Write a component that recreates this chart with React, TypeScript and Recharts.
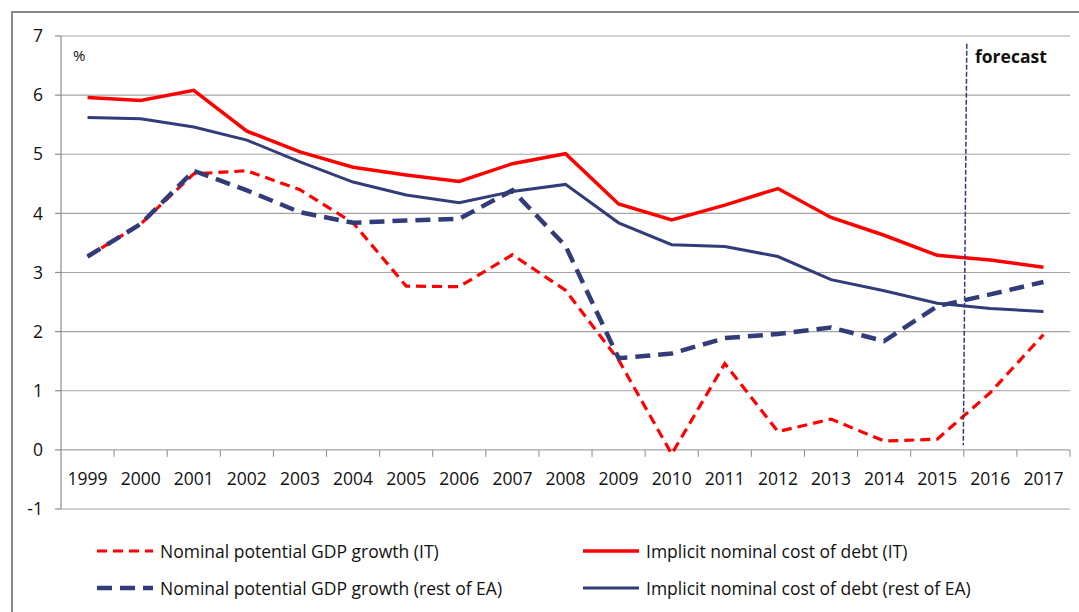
import React from 'react';
import { ComposedChart, Line, XAxis, YAxis, CartesianGrid, ReferenceLine } from 'recharts';

const years = ['1999', '2000', '2001', '2002', '2003', '2004', '2005', '2006', '2007', '2008', '2009', '2010', '2011', '2012', '2013', '2014', '2015', '2016', '2017'];
const gdpIT = [3.27, 3.82, 4.67, 4.72, 4.4, 3.84, 2.77, 2.76, 3.3, 2.7, 1.52, -0.07, 1.46, 0.31, 0.52, 0.15, 0.18, 0.97, 1.95];
const costIT = [5.96, 5.91, 6.08, 5.39, 5.04, 4.78, 4.65, 4.54, 4.84, 5.01, 4.16, 3.89, 4.14, 4.42, 3.93, 3.63, 3.29, 3.21, 3.09];
const gdpEA = [3.27, 3.82, 4.72, 4.39, 4.02, 3.84, 3.88, 3.91, 4.39, 3.45, 1.55, 1.63, 1.89, 1.96, 2.07, 1.84, 2.43, 2.63, 2.84];
const costEA = [5.62, 5.6, 5.46, 5.24, 4.87, 4.53, 4.31, 4.18, 4.37, 4.49, 3.84, 3.47, 3.44, 3.27, 2.88, 2.69, 2.48, 2.39, 2.34];
const yTicks = [-1, 0, 1, 2, 3, 4, 5, 6, 7];
const forecastYear = '2016'; // forecast starts at the left edge of this year's band
const forecastTop = 6.87;
const forecastBottom = 0.08;

const RED = '#ff0000';
const NAVY = '#323c78';
const GRID = '#a3a3a3';
const AXIS = '#8c8c8c';
const TEXT = '#111111';
const FONT = '"Open Sans", "Noto Sans", sans-serif';

const series = [
  { key: 'gdpIT', name: 'Nominal potential GDP growth (IT)', color: RED, width: 3.2, dash: '10 6' },
  { key: 'costIT', name: 'Implicit nominal cost of debt (IT)', color: RED, width: 3.5, dash: undefined },
  { key: 'gdpEA', name: 'Nominal potential GDP growth (rest of EA)', color: NAVY, width: 4.5, dash: '15 8' },
  { key: 'costEA', name: 'Implicit nominal cost of debt (rest of EA)', color: NAVY, width: 3, dash: undefined },
];

const data = years.map((year, i) => ({
  year,
  gdpIT: gdpIT[i],
  costIT: costIT[i],
  gdpEA: gdpEA[i],
  costEA: costEA[i],
}));

const W = 1079;
const H = 612;
const MARGIN = { top: 36, right: 9, left: 0, bottom: 73 };
const Y_AXIS_W = 61;
const X_AXIS_H = 30;
const Y_MIN = -1;
const Y_MAX = 7;
const plotTop = MARGIN.top;
const plotBottom = H - MARGIN.bottom - X_AXIS_H;
const plotLeft = MARGIN.left + Y_AXIS_W;
const plotRight = W - MARGIN.right;
const band = (plotRight - plotLeft) / years.length;
const zeroY = plotTop + ((plotBottom - plotTop) * (Y_MAX - 0)) / (Y_MAX - Y_MIN);

const YearTick = (props: any) => {
  const { x, payload } = props;
  return (
    <g>
      <line x1={x + band / 2} x2={x + band / 2} y1={zeroY} y2={zeroY + 7} stroke={AXIS} strokeWidth={1} />
      <text x={x} y={zeroY + 28} textAnchor="middle" dominantBaseline="central" fontSize={17.5} fontFamily={FONT} fill={TEXT}>
        {payload.value}
      </text>
    </g>
  );
};

const ForecastLine = (props: any) => {
  const { x1, y1, x2, y2 } = props;
  if (x1 == null || y1 == null) return null;
  return (
    <line
      x1={x1 - band / 2 + 3}
      y1={y1}
      x2={x2 - band / 2 - 0.5}
      y2={y2}
      stroke={NAVY}
      strokeWidth={1.5}
      strokeDasharray="5 2"
    />
  );
};

const legendPos = [
  { left: 97, top: 551 },
  { left: 583, top: 551 },
  { left: 97, top: 588 },
  { left: 583, top: 588 },
];

export default function App() {
  return (
    <div style={{ position: 'absolute', left: 0, top: 0, width: W, height: H, overflow: 'hidden', background: '#fff', fontFamily: FONT }}>
      <div style={{ position: 'absolute', left: 11, top: 11, width: 1200, height: 800, border: '2px solid #8a8a8a', boxSizing: 'border-box' }} />
      <div style={{ position: 'absolute', left: 0, top: 0 }}>
        <ComposedChart width={W} height={H} data={data} margin={MARGIN}>
          <CartesianGrid vertical={false} stroke={GRID} strokeWidth={1.2} />
          <XAxis
            dataKey="year"
            scale="band"
            axisLine={false}
            tickLine={false}
            interval={0}
            height={X_AXIS_H}
            tick={(p: any) => <YearTick {...p} />}
          />
          <YAxis
            domain={[Y_MIN, Y_MAX]}
            ticks={yTicks}
            interval={0}
            width={Y_AXIS_W}
            tickSize={6}
            tickMargin={12}
            axisLine={{ stroke: AXIS, strokeWidth: 1.2 }}
            tickLine={{ stroke: AXIS, strokeWidth: 1.2 }}
            tick={{ fontSize: 17.5, fontFamily: FONT, fill: TEXT }}
          />
          {series.map((s) => (
            <Line
              key={s.key}
              dataKey={s.key}
              name={s.name}
              type="linear"
              stroke={s.color}
              strokeWidth={s.width}
              strokeDasharray={s.dash}
              dot={false}
              activeDot={false}
              isAnimationActive={false}
            />
          ))}
          <ReferenceLine
            segment={[
              { x: forecastYear, y: forecastTop },
              { x: forecastYear, y: forecastBottom },
            ]}
            shape={(p: any) => <ForecastLine {...p} />}
          />
        </ComposedChart>
      </div>
      <div style={{ position: 'absolute', left: 73, top: 45, fontSize: 15, color: TEXT }}>%</div>
      <div style={{ position: 'absolute', left: 975, top: 44, fontSize: 17.5, fontWeight: 700, color: TEXT }}>forecast</div>
      {series.map((s, i) => (
        <div key={s.key} style={{ position: 'absolute', left: legendPos[i].left, top: legendPos[i].top - 13, height: 26, display: 'flex', alignItems: 'center', whiteSpace: 'nowrap' }}>
          <svg width={58} height={10} style={{ display: 'block' }}>
            <line x1={0} x2={56} y1={5} y2={5} stroke={s.color} strokeWidth={s.width} strokeDasharray={s.dash} />
          </svg>
          <span style={{ marginLeft: 5, fontSize: 17.5, color: TEXT }}>{s.name}</span>
        </div>
      ))}
    </div>
  );
}
